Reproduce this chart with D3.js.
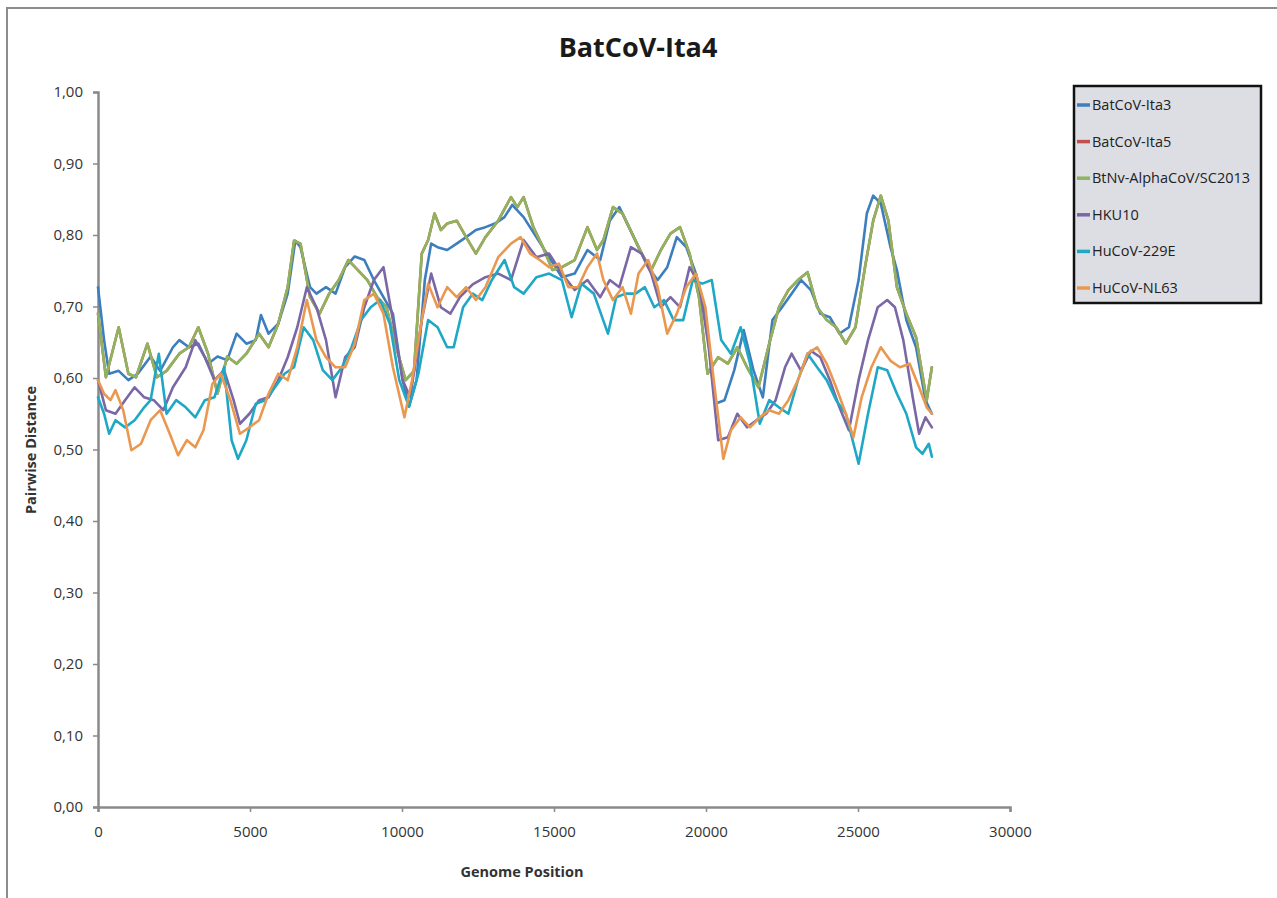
<!DOCTYPE html>
<html>
<head>
<meta charset="utf-8">
<script src="https://cdn.jsdelivr.net/npm/d3@7"></script>
<style>
  html, body { margin: 0; padding: 0; background: #fff; }
  svg { display: block; }
</style>
</head>
<body>
<svg id="chart" width="1277" height="898"></svg>
<script>
// ---------------- data (genome position, pairwise distance) ----------------
const title = "BatCoV-Ita4";
const xLabel = "Genome Position";
const yLabel = "Pairwise Distance";
const xTicks = [0, 5000, 10000, 15000, 20000, 25000, 30000];
const yTicks = [0, 0.1, 0.2, 0.3, 0.4, 0.5, 0.6, 0.7, 0.8, 0.9, 1.0];
const seriesNames = ["BatCoV-Ita3", "BatCoV-Ita5", "BtNv-AlphaCoV/SC2013", "HKU10", "HuCoV-229E", "HuCoV-NL63"];
const seriesColors = ["#3D7EBE", "#C0504D", "#8FB45E", "#7A67A6", "#1EA8C6", "#EA9850"];

const ita3 = [[0,0.727],[200,0.653],[366,0.606],[680,0.61],[1000,0.597],[1310,0.606],[1730,0.63],[2045,0.61],[2465,0.643],[2675,0.653],[2990,0.643],[3300,0.648],[3620,0.62],[3930,0.63],[4250,0.625],[4560,0.662],[4880,0.648],[5190,0.653],[5360,0.688],[5610,0.662],[5930,0.676],[6240,0.718],[6490,0.792],[6660,0.783],[6975,0.727],[7185,0.718],[7500,0.727],[7815,0.718],[8130,0.755],[8445,0.77],[8760,0.765],[9075,0.737],[9390,0.713],[9700,0.69],[10020,0.597],[10230,0.56],[10480,0.597],[10750,0.737],[10960,0.788],[11170,0.783],[11485,0.779],[11800,0.788],[12110,0.797],[12430,0.807],[12745,0.811],[13060,0.816],[13370,0.825],[13625,0.842],[14000,0.825],[14420,0.797],[14840,0.769],[15260,0.741],[15680,0.746],[16100,0.779],[16520,0.765],[16835,0.82],[17150,0.839],[17465,0.811],[17780,0.783],[18095,0.755],[18410,0.737],[18725,0.755],[19040,0.797],[19350,0.783],[19670,0.746],[19980,0.69],[20300,0.564],[20610,0.569],[20930,0.611],[21240,0.667],[21560,0.611],[21870,0.573],[22185,0.681],[22500,0.699],[22815,0.718],[23130,0.737],[23450,0.723],[23760,0.69],[24075,0.685],[24390,0.662],[24700,0.671],[25020,0.737],[25290,0.83],[25500,0.855],[25750,0.844],[26070,0.783],[26280,0.751],[26590,0.681],[26910,0.643],[27220,0.569],[27430,0.55]];

const ita5 = [[0,0.69],[260,0.601],[680,0.671],[1000,0.606],[1250,0.601],[1625,0.648],[1940,0.601],[2255,0.61],[2675,0.634],[2990,0.643],[3300,0.671],[3620,0.634],[3930,0.578],[4250,0.63],[4560,0.62],[4880,0.634],[5300,0.662],[5610,0.643],[5930,0.676],[6240,0.727],[6450,0.792],[6660,0.788],[6975,0.713],[7290,0.69],[7605,0.718],[7920,0.737],[8235,0.765],[8550,0.751],[8860,0.737],[9180,0.713],[9490,0.699],[9810,0.643],[10120,0.597],[10395,0.61],[10650,0.774],[10860,0.793],[11070,0.83],[11280,0.807],[11485,0.816],[11800,0.82],[12110,0.797],[12430,0.774],[12745,0.797],[13165,0.82],[13585,0.853],[13795,0.839],[14000,0.853],[14320,0.811],[14635,0.783],[14950,0.751],[15260,0.755],[15680,0.765],[16100,0.811],[16415,0.779],[16625,0.793],[16940,0.839],[17255,0.83],[17570,0.802],[17885,0.774],[18200,0.751],[18515,0.779],[18830,0.802],[19145,0.811],[19460,0.774],[19770,0.713],[20050,0.606],[20400,0.629],[20720,0.62],[21030,0.643],[21350,0.615],[21725,0.587],[22080,0.648],[22400,0.699],[22710,0.723],[23025,0.737],[23340,0.748],[23655,0.699],[23970,0.681],[24280,0.671],[24600,0.648],[24915,0.671],[25230,0.755],[25500,0.82],[25750,0.855],[26000,0.82],[26280,0.727],[26590,0.69],[26910,0.657],[27260,0.569],[27430,0.615]];

const btnv = [[0,0.69],[260,0.601],[680,0.671],[1000,0.606],[1250,0.601],[1625,0.648],[1940,0.601],[2255,0.61],[2675,0.634],[2990,0.643],[3300,0.671],[3620,0.634],[3930,0.578],[4250,0.63],[4560,0.62],[4880,0.634],[5300,0.662],[5610,0.643],[5930,0.676],[6240,0.727],[6450,0.792],[6660,0.788],[6975,0.713],[7290,0.69],[7605,0.718],[7920,0.737],[8235,0.765],[8550,0.751],[8860,0.737],[9180,0.713],[9490,0.699],[9810,0.643],[10120,0.597],[10395,0.61],[10650,0.774],[10860,0.793],[11070,0.83],[11280,0.807],[11485,0.816],[11800,0.82],[12110,0.797],[12430,0.774],[12745,0.797],[13165,0.82],[13585,0.853],[13795,0.839],[14000,0.853],[14320,0.811],[14635,0.783],[14950,0.751],[15260,0.755],[15680,0.765],[16100,0.811],[16415,0.779],[16625,0.793],[16940,0.839],[17255,0.83],[17570,0.802],[17885,0.774],[18200,0.751],[18515,0.779],[18830,0.802],[19145,0.811],[19460,0.774],[19770,0.713],[20050,0.606],[20400,0.629],[20720,0.62],[21030,0.643],[21350,0.615],[21725,0.587],[22080,0.648],[22400,0.699],[22710,0.723],[23025,0.737],[23340,0.748],[23655,0.699],[23970,0.681],[24280,0.671],[24600,0.648],[24915,0.671],[25230,0.755],[25500,0.82],[25750,0.855],[26000,0.82],[26280,0.727],[26590,0.69],[26910,0.657],[27260,0.569],[27430,0.615]];

const hku10 = [[0,0.597],[260,0.555],[575,0.55],[890,0.569],[1205,0.587],[1520,0.573],[1835,0.569],[2150,0.555],[2465,0.587],[2885,0.615],[3200,0.653],[3515,0.629],[3830,0.597],[4145,0.611],[4460,0.569],[4670,0.536],[4980,0.55],[5300,0.569],[5610,0.573],[5930,0.597],[6240,0.629],[6555,0.671],[6870,0.727],[7185,0.699],[7500,0.653],[7815,0.573],[8130,0.629],[8445,0.643],[8760,0.699],[9075,0.737],[9390,0.755],[9700,0.681],[10020,0.597],[10270,0.573],[10650,0.681],[10960,0.746],[11275,0.699],[11590,0.69],[11905,0.713],[12325,0.731],[12745,0.741],[13165,0.746],[13585,0.737],[14000,0.793],[14420,0.769],[14840,0.774],[15260,0.746],[15680,0.723],[16100,0.737],[16520,0.713],[16835,0.737],[17150,0.727],[17530,0.783],[17885,0.774],[18200,0.746],[18515,0.699],[18830,0.713],[19145,0.699],[19460,0.755],[19770,0.732],[20090,0.643],[20400,0.513],[20720,0.517],[21030,0.55],[21350,0.531],[21660,0.541],[21980,0.55],[22290,0.569],[22600,0.615],[22815,0.634],[23130,0.61],[23450,0.638],[23760,0.629],[24075,0.597],[24390,0.559],[24700,0.527],[25020,0.597],[25330,0.653],[25650,0.699],[25960,0.709],[26215,0.699],[26490,0.653],[26800,0.573],[27010,0.522],[27220,0.545],[27430,0.531]];

const hu229e = [[0,0.573],[200,0.55],[366,0.522],[575,0.541],[890,0.531],[1205,0.541],[1520,0.559],[1730,0.569],[2000,0.634],[2255,0.55],[2570,0.569],[2885,0.559],[3200,0.545],[3515,0.569],[3830,0.573],[4145,0.615],[4395,0.513],[4605,0.487],[4880,0.513],[5190,0.564],[5505,0.569],[5820,0.587],[6135,0.606],[6450,0.615],[6765,0.671],[7080,0.653],[7395,0.611],[7710,0.597],[8025,0.615],[8340,0.643],[8655,0.681],[8970,0.699],[9280,0.709],[9600,0.676],[9910,0.597],[10230,0.56],[10540,0.606],[10860,0.681],[11170,0.671],[11485,0.643],[11700,0.643],[12010,0.699],[12325,0.718],[12640,0.709],[12955,0.737],[13375,0.765],[13690,0.727],[14000,0.718],[14420,0.741],[14840,0.746],[15260,0.737],[15580,0.685],[15900,0.732],[16310,0.718],[16775,0.662],[17045,0.713],[17360,0.718],[17680,0.718],[17990,0.727],[18300,0.699],[18620,0.709],[18935,0.681],[19250,0.681],[19565,0.737],[19880,0.732],[20190,0.737],[20500,0.653],[20820,0.634],[21140,0.671],[21450,0.62],[21770,0.536],[22080,0.569],[22400,0.559],[22710,0.55],[23025,0.597],[23340,0.634],[23655,0.615],[23970,0.597],[24280,0.569],[24600,0.55],[25020,0.48],[25330,0.55],[25650,0.615],[25960,0.611],[26280,0.578],[26590,0.55],[26910,0.503],[27120,0.494],[27330,0.508],[27430,0.49]];

const nl63 = [[0,0.597],[200,0.578],[410,0.569],[575,0.583],[830,0.555],[1100,0.499],[1415,0.508],[1730,0.541],[2045,0.555],[2360,0.522],[2635,0.492],[2925,0.513],[3200,0.503],[3470,0.527],[3765,0.592],[4040,0.606],[4355,0.569],[4670,0.522],[4980,0.531],[5300,0.541],[5610,0.578],[5930,0.606],[6240,0.597],[6555,0.643],[6870,0.709],[7185,0.653],[7500,0.629],[7815,0.615],[8130,0.615],[8445,0.648],[8760,0.709],[9075,0.718],[9390,0.69],[9700,0.615],[10080,0.545],[10330,0.597],[10650,0.681],[10860,0.732],[11170,0.699],[11485,0.727],[11800,0.713],[12110,0.727],[12430,0.709],[12745,0.727],[13165,0.769],[13585,0.788],[13900,0.797],[14215,0.774],[14530,0.765],[14840,0.755],[15160,0.76],[15475,0.727],[15790,0.727],[16100,0.755],[16415,0.774],[16625,0.737],[16940,0.709],[17255,0.727],[17530,0.69],[17780,0.746],[18095,0.765],[18410,0.727],[18725,0.662],[19040,0.69],[19350,0.727],[19670,0.746],[19980,0.699],[20255,0.597],[20570,0.487],[20820,0.527],[21140,0.545],[21450,0.531],[21770,0.545],[22080,0.555],[22400,0.55],[22710,0.569],[23025,0.597],[23340,0.634],[23655,0.643],[23970,0.62],[24280,0.587],[24600,0.55],[24850,0.517],[25120,0.573],[25440,0.615],[25750,0.643],[26070,0.624],[26380,0.615],[26700,0.62],[27010,0.587],[27260,0.559],[27430,0.55]];

const seriesData = [ita3, ita5, btnv, hku10, hu229e, nl63];

// ---------------- drawing ----------------
const svg = d3.select("#chart");
const FONT = '"Open Sans", sans-serif';

// outer chart border
svg.append("rect").attr("x", 7).attr("y", 8).attr("width", 1290).attr("height", 920)
  .attr("fill", "#fff").attr("stroke", "#8c8c8c").attr("stroke-width", 2);

const x = d3.scaleLinear().domain([0, 30000]).range([98, 1010]);
const y = d3.scaleLinear().domain([0, 1]).range([807, 92]);

// title
svg.append("text").attr("x", 638).attr("y", 57).attr("text-anchor", "middle")
  .attr("font-family", FONT).attr("font-weight", "bold").attr("font-size", 27)
  .attr("fill", "#1a1a1a").text(title);

// y axis
const yAxis = d3.axisLeft(y).tickValues(yTicks).tickSize(5).tickPadding(10)
  .tickFormat(d => d3.format(".2f")(d).replace(".", ","));
const gy = svg.append("g").attr("transform", "translate(98,0)").call(yAxis);
gy.select(".domain").attr("stroke", "#8a8a8a").attr("stroke-width", 2.5);
gy.selectAll(".tick line").attr("stroke", "#8a8a8a").attr("stroke-width", 1.5);
gy.selectAll(".tick text").attr("font-size", 15).attr("fill", "#333").attr("font-family", FONT);

// x axis
const xAxis = d3.axisBottom(x).tickValues(xTicks).tickSize(5).tickPadding(14).tickFormat(d3.format("d"));
const gx = svg.append("g").attr("transform", "translate(0,807)").call(xAxis);
gx.select(".domain").attr("stroke", "#8a8a8a").attr("stroke-width", 2.5);
gx.selectAll(".tick line").attr("stroke", "#8a8a8a").attr("stroke-width", 1.5);
gx.selectAll(".tick text").attr("font-size", 15).attr("fill", "#333").attr("font-family", FONT);

// axis titles
svg.append("text").attr("x", 522).attr("y", 877).attr("text-anchor", "middle")
  .attr("font-family", FONT).attr("font-weight", "bold").attr("font-size", 14.5)
  .attr("fill", "#333").text(xLabel);
svg.append("text").attr("transform", "translate(36,450) rotate(-90)").attr("text-anchor", "middle")
  .attr("font-family", FONT).attr("font-weight", "bold").attr("font-size", 14.5)
  .attr("fill", "#333").text(yLabel);

// lines
const line = d3.line().x(d => x(d[0])).y(d => y(d[1])).curve(d3.curveLinear);
const order = [0, 1, 2, 3, 4, 5];
svg.append("g").selectAll("path").data(order).join("path")
  .attr("d", i => line(seriesData[i]))
  .attr("fill", "none")
  .attr("stroke", i => seriesColors[i])
  .attr("stroke-width", 2.6)
  .attr("stroke-linejoin", "round")
  .attr("stroke-linecap", "round");

// legend
const lg = svg.append("g");
lg.append("rect").attr("x", 1074).attr("y", 86).attr("width", 187).attr("height", 217)
  .attr("fill", "#dcdee3").attr("stroke", "#111").attr("stroke-width", 2.5);
const rows = lg.selectAll("g.row").data(seriesNames).join("g").attr("class", "row")
  .attr("transform", (d, i) => `translate(0,${105 + i * 36.6})`);
rows.append("line").attr("x1", 1077).attr("x2", 1090).attr("y1", 0).attr("y2", 0)
  .attr("stroke", (d, i) => seriesColors[i]).attr("stroke-width", 3.5);
rows.append("text").attr("x", 1092).attr("y", 5).attr("font-family", FONT).attr("font-size", 14.5)
  .attr("fill", "#222").text(d => d);
</script>
</body>
</html>
